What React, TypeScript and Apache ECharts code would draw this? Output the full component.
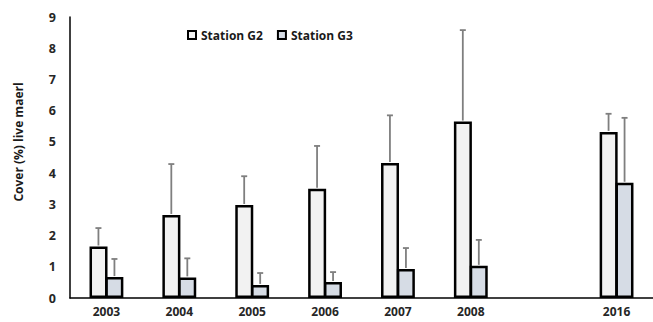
import React, { useEffect, useRef } from "react";
import * as echarts from "echarts";

const categories = ["2003", "2004", "2005", "2006", "2007", "2008", "", "2016"];
const g2Values: (number | string)[] = [1.65, 2.66, 2.98, 3.5, 4.32, 5.65, "-", 5.32];
const g2ErrTop: (number | string)[] = [2.24, 4.29, 3.9, 4.87, 5.85, 8.58, "-", 5.9];
const g3Values: (number | string)[] = [0.67, 0.66, 0.42, 0.51, 0.93, 1.03, "-", 3.69];
const g3ErrTop: (number | string)[] = [1.25, 1.27, 0.8, 0.83, 1.6, 1.86, "-", 5.77];
const yTicks = [0, 1, 2, 3, 4, 5, 6, 7, 8, 9];
const yAxisTitle = "Cover (%) live maerl";

const FONT = "'Open Sans', 'Liberation Sans', sans-serif";

function errSeries(name: string, values: (number | string)[], tops: (number | string)[], offset: number) {
  const data = categories
    .map((_, i) => [i, values[i], tops[i]])
    .filter((d) => typeof d[1] === "number");
  return {
    type: "custom",
    name,
    data,
    z: 5,
    silent: true,
    renderItem: (params: any, api: any) => {
      const i = api.value(0);
      const base = api.coord([i, api.value(1)]);
      const top = api.coord([i, api.value(2)]);
      const x = base[0] + offset;
      const style = { stroke: "#7f7f7f", lineWidth: 1.8 };
      return {
        type: "group",
        children: [
          { type: "line", shape: { x1: x, y1: base[1] - 1, x2: x, y2: top[1] }, style },
          { type: "line", shape: { x1: x - 3, y1: top[1], x2: x + 3, y2: top[1] }, style },
        ],
      };
    },
  };
}

export default function App() {
  const ref = useRef<HTMLDivElement>(null);
  useEffect(() => {
    if (!ref.current) return;
    const chart = echarts.init(ref.current, undefined, { renderer: "svg" });
    chart.setOption({
      animation: false,
      backgroundColor: "#ffffff",
      grid: { left: 70, right: 0, top: 17, bottom: 24, containLabel: false },
      legend: {
        data: ["Station G2", "Station G3"],
        left: 182,
        top: 24,
        icon: "rect",
        itemWidth: 8,
        itemHeight: 8,
        itemGap: 14,
        textStyle: { fontFamily: FONT, fontWeight: "bold", fontSize: 12, color: "#1a1a1a" },
      },
      graphic: [
        {
          type: "text",
          x: 18,
          y: 142,
          rotation: Math.PI / 2,
          style: {
            text: yAxisTitle,
            align: "center",
            verticalAlign: "middle",
            fontFamily: FONT,
            fontWeight: "bold",
            fontSize: 12,
            fill: "#1a1a1a",
          },
        },
      ],
      xAxis: {
        type: "category",
        data: categories,
        axisLine: { lineStyle: { color: "#000", width: 1.5 } },
        axisTick: { show: false },
        axisLabel: {
          fontFamily: FONT,
          fontWeight: "bold",
          fontSize: 12,
          color: "#262626",
          margin: 7,
        },
      },
      yAxis: {
        type: "value",
        min: yTicks[0],
        max: yTicks[yTicks.length - 1],
        interval: 1,
        axisLine: { show: true, lineStyle: { color: "#000", width: 1.5 } },
        axisTick: { show: false },
        splitLine: { show: false },
        axisLabel: {
          fontFamily: FONT,
          fontWeight: "bold",
          fontSize: 12.5,
          color: "#262626",
          margin: 14,
        },
      },
      series: [
        {
          type: "bar",
          name: "Station G2",
          data: g2Values,
          barWidth: 18,
          barGap: "-12%",
          itemStyle: { color: "#f2f2f2", borderColor: "#000", borderWidth: 2.5 },
        },
        {
          type: "bar",
          name: "Station G3",
          data: g3Values,
          barWidth: 18,
          barGap: "-12%",
          itemStyle: { color: "#d6dce5", borderColor: "#000", borderWidth: 2.5 },
        },
        errSeries("errG2", g2Values, g2ErrTop, -8),
        errSeries("errG3", g3Values, g3ErrTop, 8),
      ],
    });
    return () => chart.dispose();
  }, []);
  return (
    <div
      ref={ref}
      style={{ position: "fixed", left: 0, top: 0, width: 653, height: 322 }}
    />
  );
}
